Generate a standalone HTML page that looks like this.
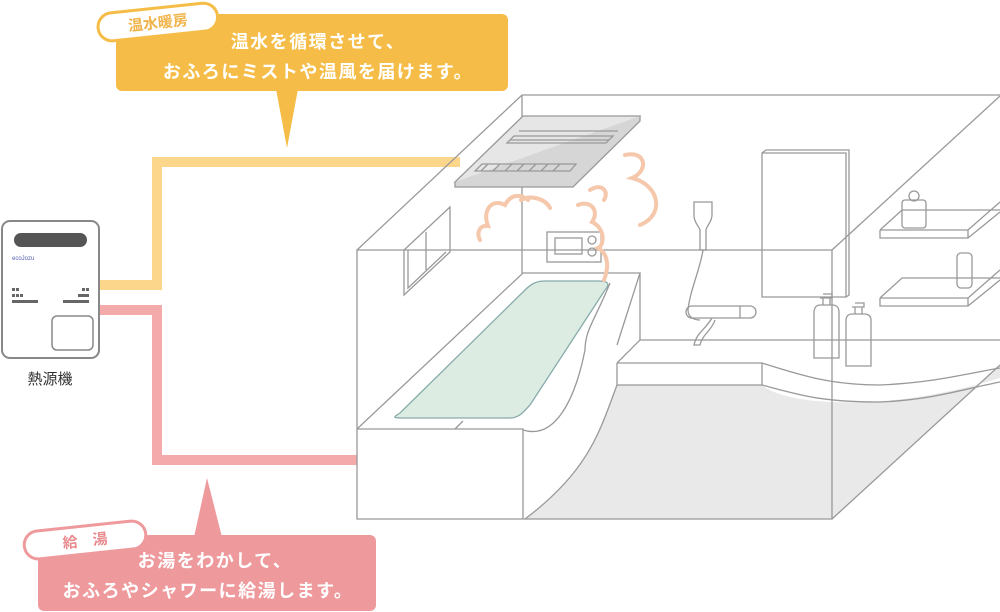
<!DOCTYPE html>
<html><head><meta charset="utf-8"><style>
html,body{margin:0;padding:0;background:#fff;}
body{width:1000px;height:612px;overflow:hidden;}
svg{display:block;}
.t{font-family:"Liberation Sans","Noto Sans CJK JP",sans-serif;}
</style></head><body>
<svg width="1000" height="612" viewBox="0 0 1000 612" xmlns="http://www.w3.org/2000/svg">
<!-- pipes -->
<path d="M98 285 H157 V162 H460" fill="none" stroke="#fcd68a" stroke-width="10"/>
<path d="M98 310 H157 V460 H357" fill="none" stroke="#f4a9ab" stroke-width="10"/>

<!-- heat source -->
<rect x="2" y="221" width="97" height="137" rx="8" fill="#fff" stroke="#888" stroke-width="2"/>
<rect x="14" y="233" width="73" height="14" rx="7" fill="#555"/>
<text x="12" y="260" font-size="6" fill="#5560b0" class="t">ecoJozu</text>
<g fill="#666">
<rect x="12" y="288" width="3" height="3"/><rect x="16" y="288" width="3" height="3"/>
<rect x="12" y="294" width="3" height="3"/><rect x="16" y="294" width="3" height="3"/><rect x="20" y="294" width="3" height="3"/>
<rect x="12" y="300" width="26" height="3"/>
<rect x="82" y="288" width="3" height="3"/><rect x="86" y="288" width="3" height="3"/>
<rect x="78" y="294" width="11" height="3"/>
<rect x="63" y="300" width="26" height="3"/>
</g>
<rect x="52" y="316" width="41" height="34" rx="5" fill="#fff" stroke="#888" stroke-width="1.5"/>
<text x="50" y="384" font-size="15" text-anchor="middle" class="t" fill="#333">熱源機</text>

<!-- orange bubble -->
<rect x="116" y="14" width="392" height="77" rx="6" fill="#f5bd47"/>
<path d="M276 89 L298 89 L287 148 Z" fill="#f5bd47"/>
<g transform="rotate(-6 158 24)">
<rect x="98" y="8" width="120" height="28" rx="14" fill="#fff" stroke="#f5bd47" stroke-width="3"/>
<text x="158" y="28" font-size="15" font-weight="bold" text-anchor="middle" class="t" fill="#f0b44a">温水暖房</text>
</g>
<text x="318" y="48" font-size="18" font-weight="bold" text-anchor="middle" class="t" fill="#fff" letter-spacing="1.5">温水を循環させて、</text>
<text x="318" y="78" font-size="18" font-weight="bold" text-anchor="middle" class="t" fill="#fff" letter-spacing="1.5">おふろにミストや温風を届けます。</text>

<!-- pink bubble -->
<rect x="38" y="535" width="338" height="76" rx="6" fill="#ee9a9d"/>
<path d="M194 537 L222 537 L207 478 Z" fill="#ee9a9d"/>
<g transform="rotate(-6 85 540)">
<rect x="24" y="526" width="122" height="28" rx="14" fill="#fff" stroke="#ee9a9d" stroke-width="3"/>
<text x="85" y="546" font-size="15" font-weight="bold" text-anchor="middle" class="t" fill="#e88a8e" xml:space="preserve">給　湯</text>
</g>
<text x="215" y="567" font-size="18" font-weight="bold" text-anchor="middle" class="t" fill="#fff" letter-spacing="1.5">お湯をわかして、</text>
<text x="208" y="597" font-size="18" font-weight="bold" text-anchor="middle" class="t" fill="#fff" letter-spacing="1.5">おふろやシャワーに給湯します。</text>

<!-- bathroom -->
<g fill="none" stroke="#999" stroke-width="1.3">
<path d="M525 519 L832 519 L1000 365 L1000 378 C960 390 900 405 830 402 C790 400 770 392 762 385 L617 385 C600 430 590 470 525 519 Z" fill="#e9e9e9" stroke="none"/>
<path d="M357 250 L522 95 L1000 95"/>
<path d="M522 95 V273"/>
<path d="M357 250 H832 V519 H357 Z"/>
<path d="M832 250 L1000 96"/>
<path d="M832 519 L1000 365"/>
<!-- vent -->
<path d="M455 182 L523 116 L640 116 L573 182 Z" fill="#e6e6e6"/>
<path d="M455 182 V187 H573 L640 121 V116"  fill="#d6d6d6"/>
<path d="M514 136 H613 L606 143 H507 Z M519 131 H618 M510 140 H609" />
<path d="M482 164 H576 L570 171 H475 Z M488 164 L481 171 M500 164 L493 171 M512 164 L505 171 M524 164 L517 171 M536 164 L529 171 M548 164 L541 171 M560 164 L553 171"/>
<!-- window -->
<path d="M404 250 V295 L450 252 V207 Z"/>
<path d="M408 250 V288 L446 252"/>
<path d="M426 232 V270"/>
<!-- remote -->
<rect x="547" y="232" width="54" height="30"/>
<rect x="555" y="238" width="27" height="16"/>
<circle cx="592" cy="240" r="4"/><circle cx="592" cy="252" r="4"/>
<!-- tub -->
<path d="M357 429 L523 273 H640 L617 345"/>
<path d="M357 429 H523 V519"/>
<path d="M640 273 V340"/>
<path d="M610 283 C595 320 585 330 585 350 C575 400 555 440 523 430" />
<path d="M455 429 L463 421"/>
<path d="M400 413 C392 418 393 418 405 418 L510 418 C520 418 525 410 530 405 L605 290 C612 282 605 281 598 281 L545 281 C535 281 530 285 525 290 Z" fill="#dcece2" stroke="#8aa"/>
<path d="M617 385 C600 430 590 470 525 519"/>
<path d="M617 363 V385 H762"/>
<path d="M617 363 L640 340 H1000"/>
<path d="M617 363 H762 C800 375 830 385 880 385 C930 383 960 375 1000 368"/>
<path d="M762 363 V385 C800 395 820 402 880 402 C930 400 960 390 1000 382"/>
<!-- mirror -->
<path d="M762 153 H846 V297 H762 Z"/>
<path d="M762 153 L766 150 H849 V295 L846 297"/>
<!-- shower -->
<path d="M694 202 H712 V215 C712 222 707 225 706 230 V250 H700 V230 C698 225 694 222 694 215 Z"/>
<path d="M703 250 C700 270 690 290 688 310 C688 318 695 320 700 320"/>
<rect x="686" y="306" width="70" height="12" rx="6"/>
<path d="M740 306 V318"/>
<path d="M712 318 C705 330 697 332 694 345 H700 C702 335 712 330 715 320"/>
<!-- bottles -->
<path d="M814 312 V358 H839 V312 C839 305 833 305 833 305 H820 C814 305 814 312 814 312 Z"/>
<path d="M823 305 V298 H830 V305 M820 298 H832 V294 H823"/>
<path d="M846 320 V366 H871 V320 C871 314 865 314 865 314 H852 C846 314 846 320 846 320 Z"/>
<path d="M855 314 V307 H862 V314 M852 307 H864 V303 H855"/>
<!-- shelves -->
<path d="M880 230 L902 210 H1000 M880 230 H968 L1000 202 M880 230 V238 H968 L1000 212 M968 230 V238"/>
<path d="M880 298 L902 278 H1000 M880 298 H968 L1000 270 M880 298 V306 H968 L1000 280 M968 298 V306"/>
<rect x="902" y="200" width="24" height="28" rx="3"/>
<circle cx="914" cy="196" r="5"/>
<rect x="957" y="253" width="15" height="35" rx="4"/>
</g>
<!-- steam -->
<g fill="none" stroke="#f5c7ab" stroke-width="4" stroke-linecap="round">
<path d="M480 240 C476 232 480 225 488 226 C482 210 492 198 505 205 C510 195 520 193 528 200"/>
<path d="M521 200 C530 195 545 198 550 208"/>
<path d="M578 205 C590 200 600 210 592 222 C605 228 605 245 598 248 C610 255 608 270 604 280"/>
<path d="M590 190 C600 183 610 190 604 200"/>
<path d="M625 155 C645 150 650 170 632 178 C660 185 665 215 640 225"/>
</g>
</svg>
</body></html>
